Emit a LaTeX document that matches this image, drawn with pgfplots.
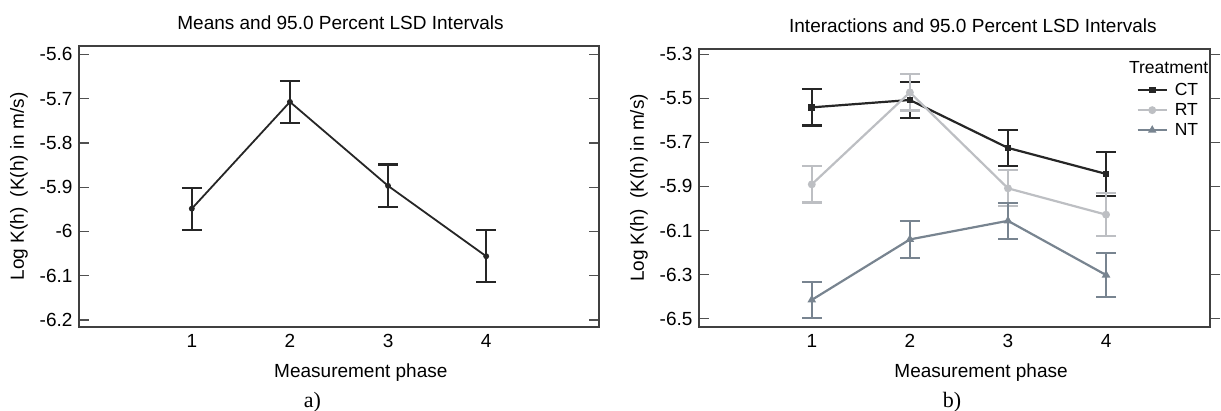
\documentclass[border=0pt]{standalone}
\usepackage{fontspec}
\setmainfont{Liberation Sans}
\newfontfamily\seriffont{Liberation Serif}
\usepackage{pgfplots}
\pgfplotsset{compat=1.18}

\definecolor{axcol}{HTML}{404040}
\definecolor{tickcol}{HTML}{505050}
\definecolor{ctcol}{HTML}{262626}
\definecolor{rtcol}{HTML}{BDBFC3}
\definecolor{ntcol}{HTML}{788490}

\pgfplotsset{
  lsd/.style={
    scale only axis,
    xmin=-0.15, clip=false,
    xtick={1,2,3,4}, xticklabels={1,2,3,4},
    xtick style={draw=none},
    tick align=inside, major tick length=10pt,
    ytick style={line width=1.3pt, color=tickcol},
    axis line style={line width=1.3pt, color=axcol},
    font=\fontsize{19}{22}\selectfont,
    xticklabel style={yshift=-4pt},
    yticklabel style={xshift=-3pt},
    title style={anchor=center, yshift=17pt},
    xlabel style={anchor=center, yshift=-46pt},
    xlabel={Measurement phase},
    ylabel={Log K(h)~~(K(h) in m/s)},
    ylabel style={at={(0,0.5)}, anchor=center, rotate=0, yshift=60pt},
  },
  bars/.style={error bars/.cd, y dir=both, y explicit,
    error bar style={line width=2.2pt},
    error mark options={rotate=90, line width=2.2pt, mark size=10pt}},
}

\begin{document}
\begin{tikzpicture}
\useasboundingbox (-79pt,-84pt) rectangle (1142pt,327pt);

% a) means
\begin{axis}[lsd, width=520pt, height=281pt, xmax=5.15,
    ytick pos=both,
    ymin=-6.2157, ymax=-5.5813,
    ytick={-6.2,-6.1,-6,-5.9,-5.8,-5.7,-5.6},
    yticklabels={-6.2,-6.1,-6,-5.9,-5.8,-5.7,-5.6},
    title={Means and 95.0 Percent LSD Intervals},
    title style={at={(0.503,1)}},
    xlabel style={at={(0.542,0)}},
  ]
  \addplot[ctcol, line width=1.8pt, mark=*, mark size=2pt, bars] coordinates {
    (1,-5.9485) +- (0,0.0475)
    (2,-5.7075) +- (0,0.0475)
    (3,-5.897)  +- (0,0.048)
    (4,-6.056)  +- (0,0.059)
  };
  \node[font=\seriffont\fontsize{22}{25}\selectfont] at (rel axis cs:0.449,0) [yshift=-75pt] {a)};
\end{axis}

% b) interactions
\begin{axis}[lsd, at={(620pt,0pt)}, width=511pt, height=278pt, xmax=5.06,
    ytick pos=left,
    ymin=-6.538, ymax=-5.276,
    ytick={-6.5,-6.3,-6.1,-5.9,-5.7,-5.5,-5.3},
    yticklabels={-6.5,-6.3,-6.1,-5.9,-5.7,-5.5,-5.3},
    title={Interactions and 95.0 Percent LSD Intervals},
    title style={at={(0.536,1)}},
    xlabel style={at={(0.552,0)}},
    legend style={at={(0.856,0.885)}, anchor=north west, draw=none, fill=none,
      inner sep=0pt, row sep=2.5pt, column sep=5pt,
      font=\fontsize{17.5}{20}\selectfont},
    legend cell align=left,
    legend image code/.code={\draw[#1, mark repeat=2, mark phase=2]
      plot coordinates {(0pt,0pt) (14.5pt,0pt) (29pt,0pt)};},
  ]
  \addplot[ctcol, line width=2.2pt, mark=square*, mark size=2.2pt, bars] coordinates {
    (1,-5.541)  +- (0,0.082)
    (2,-5.5075) +- (0,0.0815)
    (3,-5.725)  +- (0,0.083)
    (4,-5.843)  +- (0,0.101)
  };
  \addplot[rtcol, line width=2.2pt, mark=*, mark size=2.8pt, bars] coordinates {
    (1,-5.8905) +- (0,0.0825)
    (2,-5.473)  +- (0,0.082)
    (3,-5.9085) +- (0,0.0815)
    (4,-6.028)  +- (0,0.098)
  };
  \addplot[ntcol, line width=2.2pt, mark=triangle*, mark size=2.8pt, bars] coordinates {
    (1,-6.415)  +- (0,0.082)
    (2,-6.1405) +- (0,0.0825)
    (3,-6.056)  +- (0,0.082)
    (4,-6.302)  +- (0,0.101)
  };
  \legend{CT,RT,NT}
  \node[font=\fontsize{17.5}{20}\selectfont] at (rel axis cs:0.919,0.932) {Treatment};
  \node[font=\seriffont\fontsize{22}{25}\selectfont] at (rel axis cs:0.495,0) [yshift=-75pt] {b)};
\end{axis}

% right-hand ticks of b), drawn outwards
\begin{axis}[scale only axis, at={(620pt,0pt)}, width=511pt, height=278pt,
    xmin=-0.15, xmax=5.06, ymin=-6.538, ymax=-5.276,
    axis x line=none, axis y line*=right,
    ytick={-6.5,-6.3,-6.1,-5.9,-5.7,-5.5,-5.3}, yticklabels={},
    tick align=outside, major tick length=10pt,
    ytick style={line width=1.3pt, color=tickcol},
    axis line style={line width=1.3pt, color=axcol, -},
  ]
\end{axis}
\end{tikzpicture}
\end{document}
